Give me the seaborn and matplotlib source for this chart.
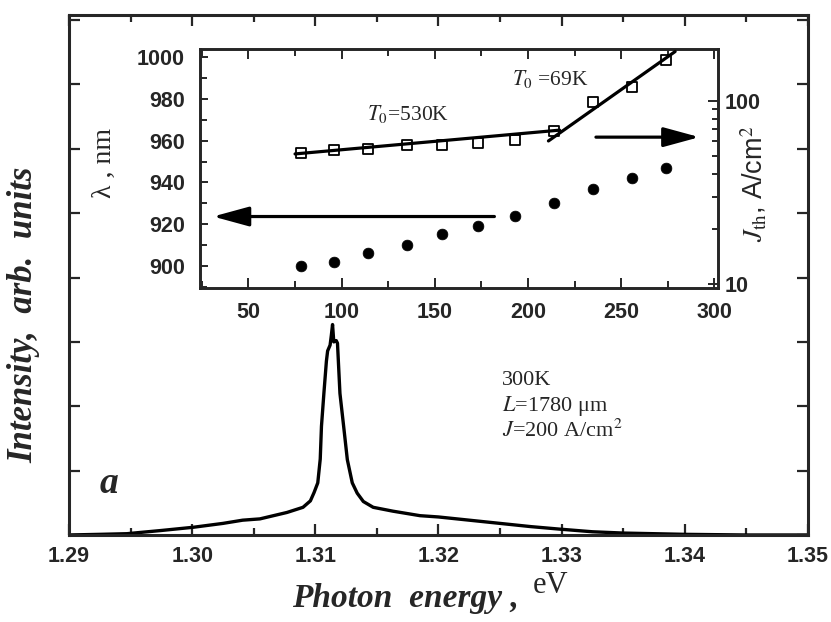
import matplotlib
matplotlib.use("Agg")
import matplotlib.pyplot as plt
from matplotlib.ticker import MultipleLocator, NullFormatter
import seaborn as sns

# main spectrum (photon energy in eV, intensity in units of the left tick spacing)
energy = [1.2900, 1.2925, 1.2947, 1.2975, 1.3001, 1.3025, 1.3041, 1.3055, 1.3077,
          1.3090, 1.3096, 1.3099, 1.3102, 1.3104, 1.3105, 1.3107, 1.3109, 1.3110,
          1.3112, 1.3113, 1.3114, 1.3115, 1.3117, 1.3118, 1.3120, 1.3123, 1.3126,
          1.3130, 1.3134, 1.3139, 1.3147, 1.3163, 1.3185, 1.3200, 1.3225, 1.3250,
          1.3275, 1.3299, 1.3325, 1.3350, 1.3400, 1.3450, 1.3500]
intensity = [0.00, 0.01, 0.02, 0.07, 0.12, 0.18, 0.23, 0.25, 0.35,
             0.43, 0.53, 0.66, 0.81, 1.18, 1.69, 2.21, 2.70, 2.86,
             2.95, 3.10, 3.27, 3.00, 3.02, 2.98, 2.20, 1.69, 1.17,
             0.81, 0.65, 0.52, 0.43, 0.37, 0.30, 0.28, 0.23, 0.18,
             0.13, 0.09, 0.05, 0.03, 0.01, 0.00, 0.00]

# inset: temperature dependence
temp = [78, 96, 114, 135, 154, 173, 193, 214, 235, 256, 274]
wavelength = [900, 902, 906, 910, 915, 919, 924, 930, 937, 942, 947]
j_th = [51.9, 53.6, 54.7, 57.2, 57.6, 58.8, 61.5, 68.5, 98.0, 119.3, 166.7]

# end points of the two T0 fits
fit1_t = [75, 217]
fit1_j = [51.3, 69.2]
fit2_t = [211, 279]
fit2_j = [60.4, 186.0]

main_xticks = [1.29, 1.30, 1.31, 1.32, 1.33, 1.34, 1.35]
inset_xticks = [50, 100, 150, 200, 250, 300]
inset_yticks = [900, 920, 940, 960, 980, 1000]

sns.set_style("ticks")
plt.rcParams["font.family"] = ["Liberation Serif", "DejaVu Serif"]
plt.rcParams["mathtext.fontset"] = "stix"

fig = plt.figure(figsize=(8.31, 6.22), dpi=100)

# ---- main axes
ax = fig.add_axes([0.0830, 0.1399, 0.8893, 0.8360])
sns.lineplot(x=energy, y=intensity, ax=ax, color="black", lw=2.4)
ax.set_xlim(1.29, 1.35)
ax.set_ylim(0, 8.08)
ax.set_xticks(main_xticks, labels=[f"{v:.2f}" for v in main_xticks],
              fontfamily="Liberation Sans", fontsize=15.5, fontweight="bold")
ax.xaxis.set_minor_locator(MultipleLocator(0.005))
ax.set_yticks(range(9))
ax.tick_params(which="both", direction="in", top=True, right=True,
               labelleft=False, width=1.6, pad=8)
ax.tick_params(which="major", length=8)
ax.tick_params(which="minor", length=5)
for s in ax.spines.values():
    s.set_linewidth(2.2)
ax.set_xlabel("")
ax.set_ylabel("")

ax.text(-0.061, 0.423, "Intensity,  arb.  units", rotation=90, ha="center", va="center",
        fontsize=25, fontweight="bold", fontstyle="italic", transform=ax.transAxes)
ax.text(0.302, -0.1385, "Photon  energy ,", ha="left", va="baseline",
        fontsize=24, fontweight="bold", fontstyle="italic", transform=ax.transAxes)
ax.text(0.628, -0.1115, "eV", ha="left", va="baseline", fontsize=22, transform=ax.transAxes)
ax.text(0.042, 0.081, "a", ha="left", va="baseline", fontsize=27,
        fontweight="bold", fontstyle="italic", transform=ax.transAxes)
ax.text(0.586, 0.288, "300K", ha="left", va="baseline", fontsize=16, transform=ax.transAxes)
ax.text(0.586, 0.238, "$L$=1780 μm", ha="left", va="baseline", fontsize=16, transform=ax.transAxes)
ax.text(0.586, 0.188, "$J$=200 A/cm$^2$", ha="left", va="baseline", fontsize=16,
        transform=ax.transAxes)

# ---- inset: wavelength (left) and threshold current (right, log)
axl = fig.add_axes([0.2407, 0.5370, 0.6233, 0.3842])
axr = axl.twinx()

sns.scatterplot(x=temp, y=wavelength, ax=axl, color="black", s=60, edgecolor="black",
                linewidth=0.5, zorder=3)
sns.scatterplot(x=temp, y=j_th, ax=axr, marker="s", color="white", s=42,
                edgecolor="black", linewidth=1.3, zorder=2)
sns.lineplot(x=fit1_t, y=fit1_j, ax=axr, color="black", lw=2.3, zorder=3)
sns.lineplot(x=fit2_t, y=fit2_j, ax=axr, color="black", lw=2.3, zorder=3)

axl.set_xlim(24, 302)
axl.set_ylim(889.3, 1004)
axl.set_xticks(inset_xticks, labels=[str(v) for v in inset_xticks],
               fontfamily="Liberation Sans", fontsize=15.5, fontweight="bold")
axl.set_yticks(inset_yticks, labels=[str(v) for v in inset_yticks],
               fontfamily="Liberation Sans", fontsize=15.5, fontweight="bold")
axl.xaxis.set_minor_locator(MultipleLocator(25))
axl.yaxis.set_minor_locator(MultipleLocator(10))
axl.tick_params(which="both", direction="in", top=True, right=False, width=1.4)
axl.tick_params(axis="x", which="major", length=7, pad=10)
axl.tick_params(axis="y", which="major", length=6, pad=11)
axl.tick_params(which="minor", length=5)

axr.set_yscale("log")
axr.set_ylim(9.5, 192)
axr.set_yticks([10, 100], labels=["10", "100"], fontfamily="Liberation Sans",
               fontsize=15.5, fontweight="bold")
axr.yaxis.set_minor_formatter(NullFormatter())
axr.tick_params(which="both", direction="in", width=1.4, pad=5)
axr.tick_params(which="major", length=7)
axr.tick_params(which="minor", length=4)

for a in (axl, axr):
    for s in a.spines.values():
        s.set_linewidth(1.9)
    a.set_xlabel("")
    a.set_ylabel("")

arrow = dict(arrowstyle="-|>,head_length=1.1,head_width=0.3", mutation_scale=20,
             lw=2.3, color="black", shrinkA=0, shrinkB=0)
axl.annotate("", xy=(31, 923.6), xytext=(182, 923.6), arrowprops=arrow)
axl.annotate("", xy=(292, 961.7), xytext=(236.5, 961.7), arrowprops=arrow)

axl.text(0.322, 0.703, "$T_0$=530K", ha="left", va="baseline", fontsize=15.5,
         transform=axl.transAxes)
axl.text(0.602, 0.849, "$T_0$ =69K", ha="left", va="baseline", fontsize=15.5,
         transform=axl.transAxes)
axl.text(-0.185, 0.523, "λ , nm", rotation=90, ha="center", va="center", fontsize=20,
         transform=axl.transAxes)
axr.text(1.07, 0.435, r"$J_{\rm th}$, A/cm$^2$", rotation=90, ha="center", va="center",
         fontsize=19.5, fontfamily="Liberation Sans", transform=axr.transAxes)

fig.savefig("out.png", dpi=100)
